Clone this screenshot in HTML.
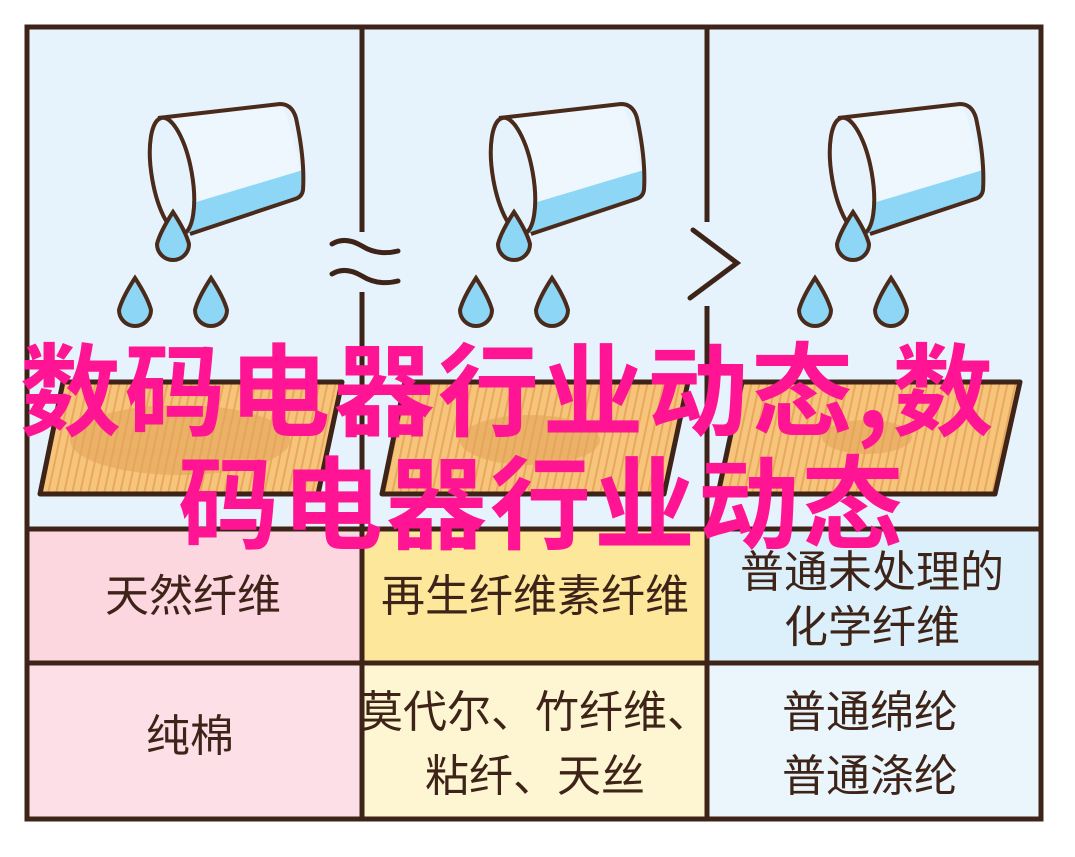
<!DOCTYPE html>
<html><head><meta charset="utf-8"><style>
html,body{margin:0;padding:0;background:#fff;}
body{width:1075px;height:857px;position:relative;overflow:hidden;font-family:"Liberation Sans","Noto Sans CJK SC",sans-serif;}
.t{position:absolute;color:#3e2418;font-size:44px;text-align:center;line-height:1;white-space:nowrap;transform:translate(-50%,-50%);}
.p{position:absolute;color:#ff1493;font-size:101px;font-weight:bold;line-height:1;white-space:nowrap;font-family:"Noto Sans CJK SC",sans-serif;}
</style></head><body>
<svg width="1075" height="857" style="position:absolute;left:0;top:0">
<defs>
<pattern id="wood" width="8" height="10" patternUnits="userSpaceOnUse" patternTransform="skewX(-12)">
<rect width="8" height="10" fill="#f7c47c"/><rect width="2" height="10" fill="#e8a85c"/>
</pattern>
<g id="cup">
<path d="M160,118 L282,104 Q300,150 302,196 L190,234 Z" fill="#eef7fd"/>
<path d="M163,212 L303,170 L302,196 L190,234 Z" fill="#8dd6f5"/>
<path d="M158,118 L280,104 Q292,104 296,118 Q305,160 303,190 Q302,197 295,199 L190,234" fill="none" stroke="#4a2a1a" stroke-width="4" stroke-linejoin="round"/>
<ellipse cx="172" cy="176" rx="20" ry="59" transform="rotate(-10 172 176)" fill="#e6f3fc" stroke="#4a2a1a" stroke-width="4"/>
<path d="M173,212 Q160,232 157,244 A16,16 0 1 0 189,244 Q186,232 173,212 Z" fill="#8dd6f5" stroke="#4a2a1a" stroke-width="4"/>
<path d="M135,278 Q122,298 119,310 A16,16 0 1 0 151,310 Q148,298 135,278 Z" fill="#8dd6f5" stroke="#4a2a1a" stroke-width="4"/>
<path d="M211,278 Q198,298 195,310 A16,16 0 1 0 227,310 Q224,298 211,278 Z" fill="#8dd6f5" stroke="#4a2a1a" stroke-width="4"/>
</g>
</defs>
<rect x="27" y="27" width="1014" height="792" fill="#e6f3fc"/>
<rect x="27" y="529" width="335" height="134" fill="#fdd7e0"/>
<rect x="362" y="529" width="345" height="134" fill="#fde79b"/>
<rect x="707" y="529" width="334" height="134" fill="#dcf0fb"/>
<rect x="27" y="663" width="335" height="156" fill="#fde0e7"/>
<rect x="362" y="663" width="345" height="156" fill="#fef5d2"/>
<rect x="707" y="663" width="334" height="156" fill="#eaf6fc"/>
<g stroke="#3e2418" stroke-width="5" stroke-linejoin="round">
<path d="M63,382 L342,382 L318,494 L40,494 Z" fill="url(#wood)"/>
<path d="M405,382 L688,382 L664,494 L382,494 Z" fill="url(#wood)"/>
<path d="M742,382 L1020,382 L995,494 L718,494 Z" fill="url(#wood)"/>
</g>
<ellipse cx="180" cy="440" rx="110" ry="35" fill="#e3a55a" opacity="0.6"/>
<ellipse cx="530" cy="440" rx="70" ry="25" fill="#e3a55a" opacity="0.6"/>
<ellipse cx="867" cy="437" rx="45" ry="17" fill="#e3a55a" opacity="0.6"/>
<use href="#cup"/>
<use href="#cup" x="341"/>
<use href="#cup" x="680"/>
<g fill="none" stroke="#3e2418" stroke-width="5">
<rect x="27" y="27" width="1014" height="792"/>
<line x1="362" y1="27" x2="362" y2="819"/>
<line x1="707" y1="27" x2="707" y2="819"/>
<line x1="27" y1="529" x2="1041" y2="529"/>
<line x1="27" y1="663" x2="1041" y2="663"/>
</g>
<rect x="328" y="232" width="78" height="60" fill="#e6f3fc"/>
<rect x="686" y="222" width="56" height="84" fill="#e6f3fc"/>
<g fill="none" stroke="#3e2418" stroke-width="5" stroke-linecap="round">
<path d="M332,244 Q345,236 362,246 Q378,256 398,251"/>
<path d="M332,274 Q345,266 362,276 Q378,286 398,281"/>
<path d="M693,230 L737,263 L690,298"/>
</g>
</svg>
<div class="p" style="left:20px;top:335px;letter-spacing:3.5px;">数码电器行业动态,数</div>
<div class="p" style="left:178px;top:448px;letter-spacing:3px;">码电器行业动态</div>
<div class="t" style="left:193px;top:597px;">天然纤维</div>
<div class="t" style="left:535px;top:597px;">再生纤维素纤维</div>
<div class="t" style="left:872px;top:573px;">普通未处理的</div>
<div class="t" style="left:872px;top:628px;">化学纤维</div>
<div class="t" style="left:190px;top:737px;">纯棉</div>
<div class="t" style="left:535px;top:713px;">莫代尔、竹纤维、</div>
<div class="t" style="left:535px;top:777px;">粘纤、天丝</div>
<div class="t" style="left:870px;top:713px;">普通绵纶</div>
<div class="t" style="left:870px;top:777px;">普通涤纶</div>
</body></html>
